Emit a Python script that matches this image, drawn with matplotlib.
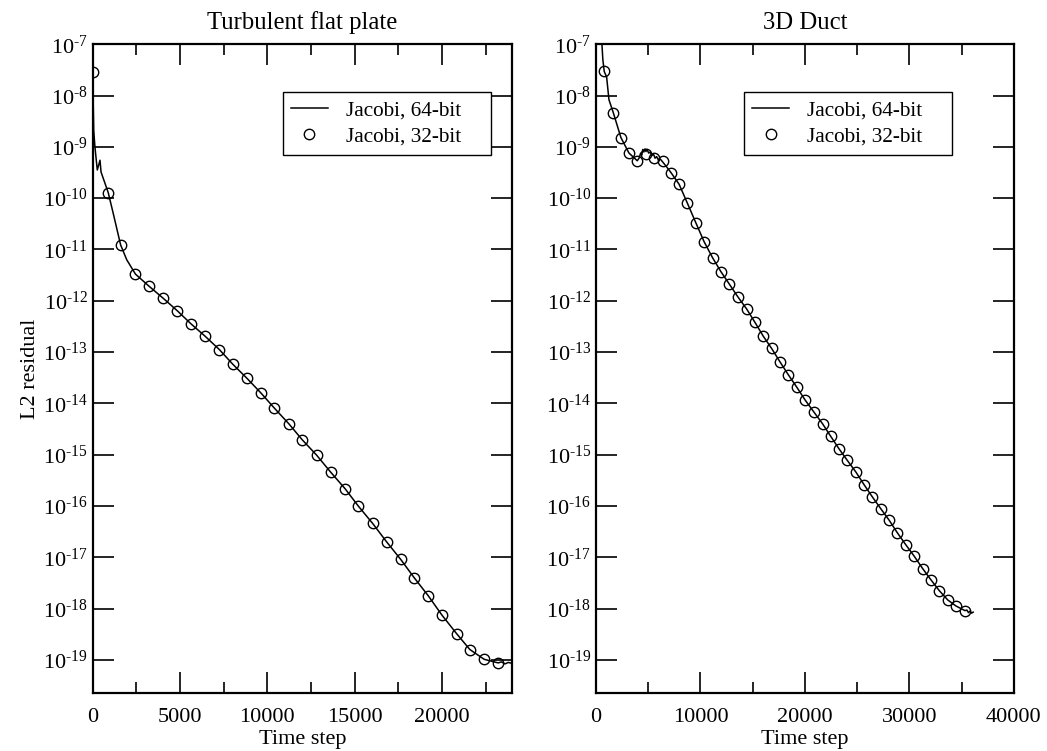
import matplotlib
matplotlib.use('Agg')
import matplotlib.pyplot as plt
from matplotlib.ticker import FixedLocator, MultipleLocator, FuncFormatter, NullLocator
import numpy as np

plt.rcParams['font.family'] = ['Liberation Serif', 'DejaVu Serif']
plt.rcParams['mathtext.fontset'] = 'custom'
plt.rcParams['mathtext.rm'] = 'Liberation Serif'
plt.rcParams['mathtext.it'] = 'Liberation Serif:italic'

# Turbulent flat plate: 64-bit line (time step, log10 residual)
flat_line_t = [0, 60, 130, 265, 420, 480, 890, 1180, 1600, 1950, 2450, 3240, 4035,
               4830, 5630, 6435, 7250, 8030, 8830, 9640, 10395, 11236, 11998, 12822,
               13623, 14442, 15203, 16027, 16829, 17630, 18409, 19210, 20000, 20836,
               21597, 22416, 23218, 23400, 23600, 23800, 24000]
flat_line_r = [-7.54, -8.68, -9.00, -9.45, -9.26, -9.49, -9.89, -10.30, -10.91, -11.20,
               -11.48, -11.72, -11.95, -12.19, -12.45, -12.69, -12.95, -13.24, -13.51,
               -13.80, -14.09, -14.40, -14.71, -15.01, -15.34, -15.66, -16.00, -16.34,
               -16.70, -17.04, -17.40, -17.75, -18.13, -18.49, -18.80, -18.99, -19.06,
               -19.04, -19.08, -19.05, -19.07]

# Turbulent flat plate: 32-bit markers
flat_mark_t = [0, 890, 1600, 2450, 3240, 4035, 4830, 5630, 6435, 7250, 8030, 8830,
               9640, 10395, 11236, 11998, 12822, 13623, 14442, 15203, 16027, 16829,
               17630, 18409, 19210, 20000, 20836, 21597, 22416, 23218]
flat_mark_r = [-7.54, -9.89, -10.91, -11.48, -11.72, -11.95, -12.19, -12.45, -12.69,
               -12.95, -13.24, -13.51, -13.80, -14.09, -14.40, -14.71, -15.01, -15.34,
               -15.66, -16.00, -16.34, -16.70, -17.04, -17.40, -17.75, -18.13, -18.49,
               -18.80, -18.99, -19.06]

# 3D duct: 64-bit line
duct_line_t = [545, 660, 794, 1024, 1244, 1655, 2392, 3158, 3952, 4124, 4279, 4381,
               4483, 4585, 4687, 4789, 4891, 5044, 5197, 5350, 5504, 5657, 5810, 5963,
               6167, 6373, 6764, 7177, 7962, 8756, 9560, 10354, 11158, 11952, 12746,
               13569, 14421, 15215, 16010, 16813, 17608, 18402, 19206, 20000, 20861,
               21694, 22459, 23273, 24048, 24880, 25675, 26440, 27244, 28067, 28833,
               29665, 30459, 31263, 32057, 32852, 33656, 34450, 35311, 35500, 35650,
               35800, 35950, 36100]
duct_line_r = [-6.90, -7.30, -7.53, -7.64, -8.08, -8.33, -8.82, -9.12, -9.27, -9.22,
               -9.12, -9.16, -9.05, -9.10, -9.04, -9.09, -9.05, -9.12, -9.10, -9.17,
               -9.14, -9.22, -9.19, -9.25, -9.24, -9.29, -9.39, -9.50, -9.73, -10.10,
               -10.48, -10.85, -11.16, -11.43, -11.67, -11.92, -12.16, -12.42, -12.69,
               -12.93, -13.19, -13.44, -13.68, -13.93, -14.17, -14.40, -14.64, -14.89,
               -15.11, -15.34, -15.59, -15.82, -16.05, -16.28, -16.52, -16.76, -16.98,
               -17.22, -17.44, -17.65, -17.83, -17.95, -18.04, -18.03, -18.08, -18.05,
               -18.09, -18.07]

# 3D duct: 32-bit markers
duct_mark_t = [794, 1655, 2392, 3158, 3952, 4785, 5579, 6373, 7177, 7962, 8756, 9560,
               10354, 11158, 11952, 12746, 13569, 14421, 15215, 16010, 16813, 17608,
               18402, 19206, 20000, 20861, 21694, 22459, 23273, 24048, 24880, 25675,
               26440, 27244, 28067, 28833, 29665, 30459, 31263, 32057, 32852, 33656,
               34450, 35311]
duct_mark_r = [-7.53, -8.33, -8.82, -9.12, -9.27, -9.13, -9.21, -9.28, -9.50, -9.73,
               -10.10, -10.48, -10.85, -11.16, -11.43, -11.67, -11.92, -12.16, -12.42,
               -12.69, -12.93, -13.19, -13.44, -13.68, -13.93, -14.17, -14.40, -14.64,
               -14.89, -15.11, -15.34, -15.59, -15.82, -16.05, -16.28, -16.52, -16.76,
               -16.98, -17.22, -17.44, -17.65, -17.83, -17.95, -18.04]

decades = list(range(-19, -6))
labels = ['Jacobi, 64-bit', 'Jacobi, 32-bit']


def style_axis(ax, xmax, major, minor):
    ax.set_yscale('log')
    ax.set_ylim(10 ** -19.65, 1e-7)
    ax.set_xlim(0, xmax)
    ax.xaxis.set_major_locator(MultipleLocator(major))
    ax.xaxis.set_minor_locator(MultipleLocator(minor))
    ax.yaxis.set_major_locator(FixedLocator([10.0 ** d for d in decades]))
    ax.yaxis.set_minor_locator(NullLocator())
    ax.yaxis.set_major_formatter(FuncFormatter(
        lambda v, p: r'$\mathregular{10^{\text{%d}}}$' % int(round(np.log10(v)))))
    ax.tick_params(which='both', direction='in', top=True, right=True, labelsize=16,
                   width=1.2, colors='black')
    ax.tick_params(which='major', length=15)
    ax.tick_params(which='minor', length=8)
    ax.tick_params(axis='x', pad=11)
    for s in ax.spines.values():
        s.set_linewidth(1.6)
    ax.set_xlabel('Time step', fontsize=16, labelpad=2)


def draw(ax, lt, lr, mt, mr, leg_x):
    ax.plot(lt, 10.0 ** np.array(lr), color='black', lw=1.1, label=labels[0] + '    ')
    ax.plot(mt, 10.0 ** np.array(mr), linestyle='none', marker='o', ms=7.5,
            mfc='none', mec='black', mew=1.0, label=labels[1] + '    ')
    leg = ax.legend(loc='upper right', bbox_to_anchor=(leg_x, 0.926), fontsize=15.3,
                    frameon=True, fancybox=False, framealpha=1, edgecolor='black',
                    handlelength=1.75, handletextpad=0.85, borderpad=0.38,
                    labelspacing=0.3, borderaxespad=0)
    leg.get_frame().set_linewidth(1.0)


fig = plt.figure(figsize=(10.47, 7.51), dpi=100)
ax1 = fig.add_axes([0.0885, 0.077, 0.4004, 0.864])
ax2 = fig.add_axes([0.5692, 0.077, 0.3992, 0.864])

draw(ax1, flat_line_t, flat_line_r, flat_mark_t, flat_mark_r, 0.95)
style_axis(ax1, 24000, 5000, 2500)
ax1.set_title('Turbulent flat plate', fontsize=17.8, pad=11)
ax1.set_ylabel('L2 residual', fontsize=16, labelpad=2)

draw(ax2, duct_line_t, duct_line_r, duct_mark_t, duct_mark_r, 0.852)
style_axis(ax2, 40000, 10000, 5000)
ax2.set_title('3D Duct', fontsize=17.8, pad=11)

fig.savefig('out.png', dpi=100)
